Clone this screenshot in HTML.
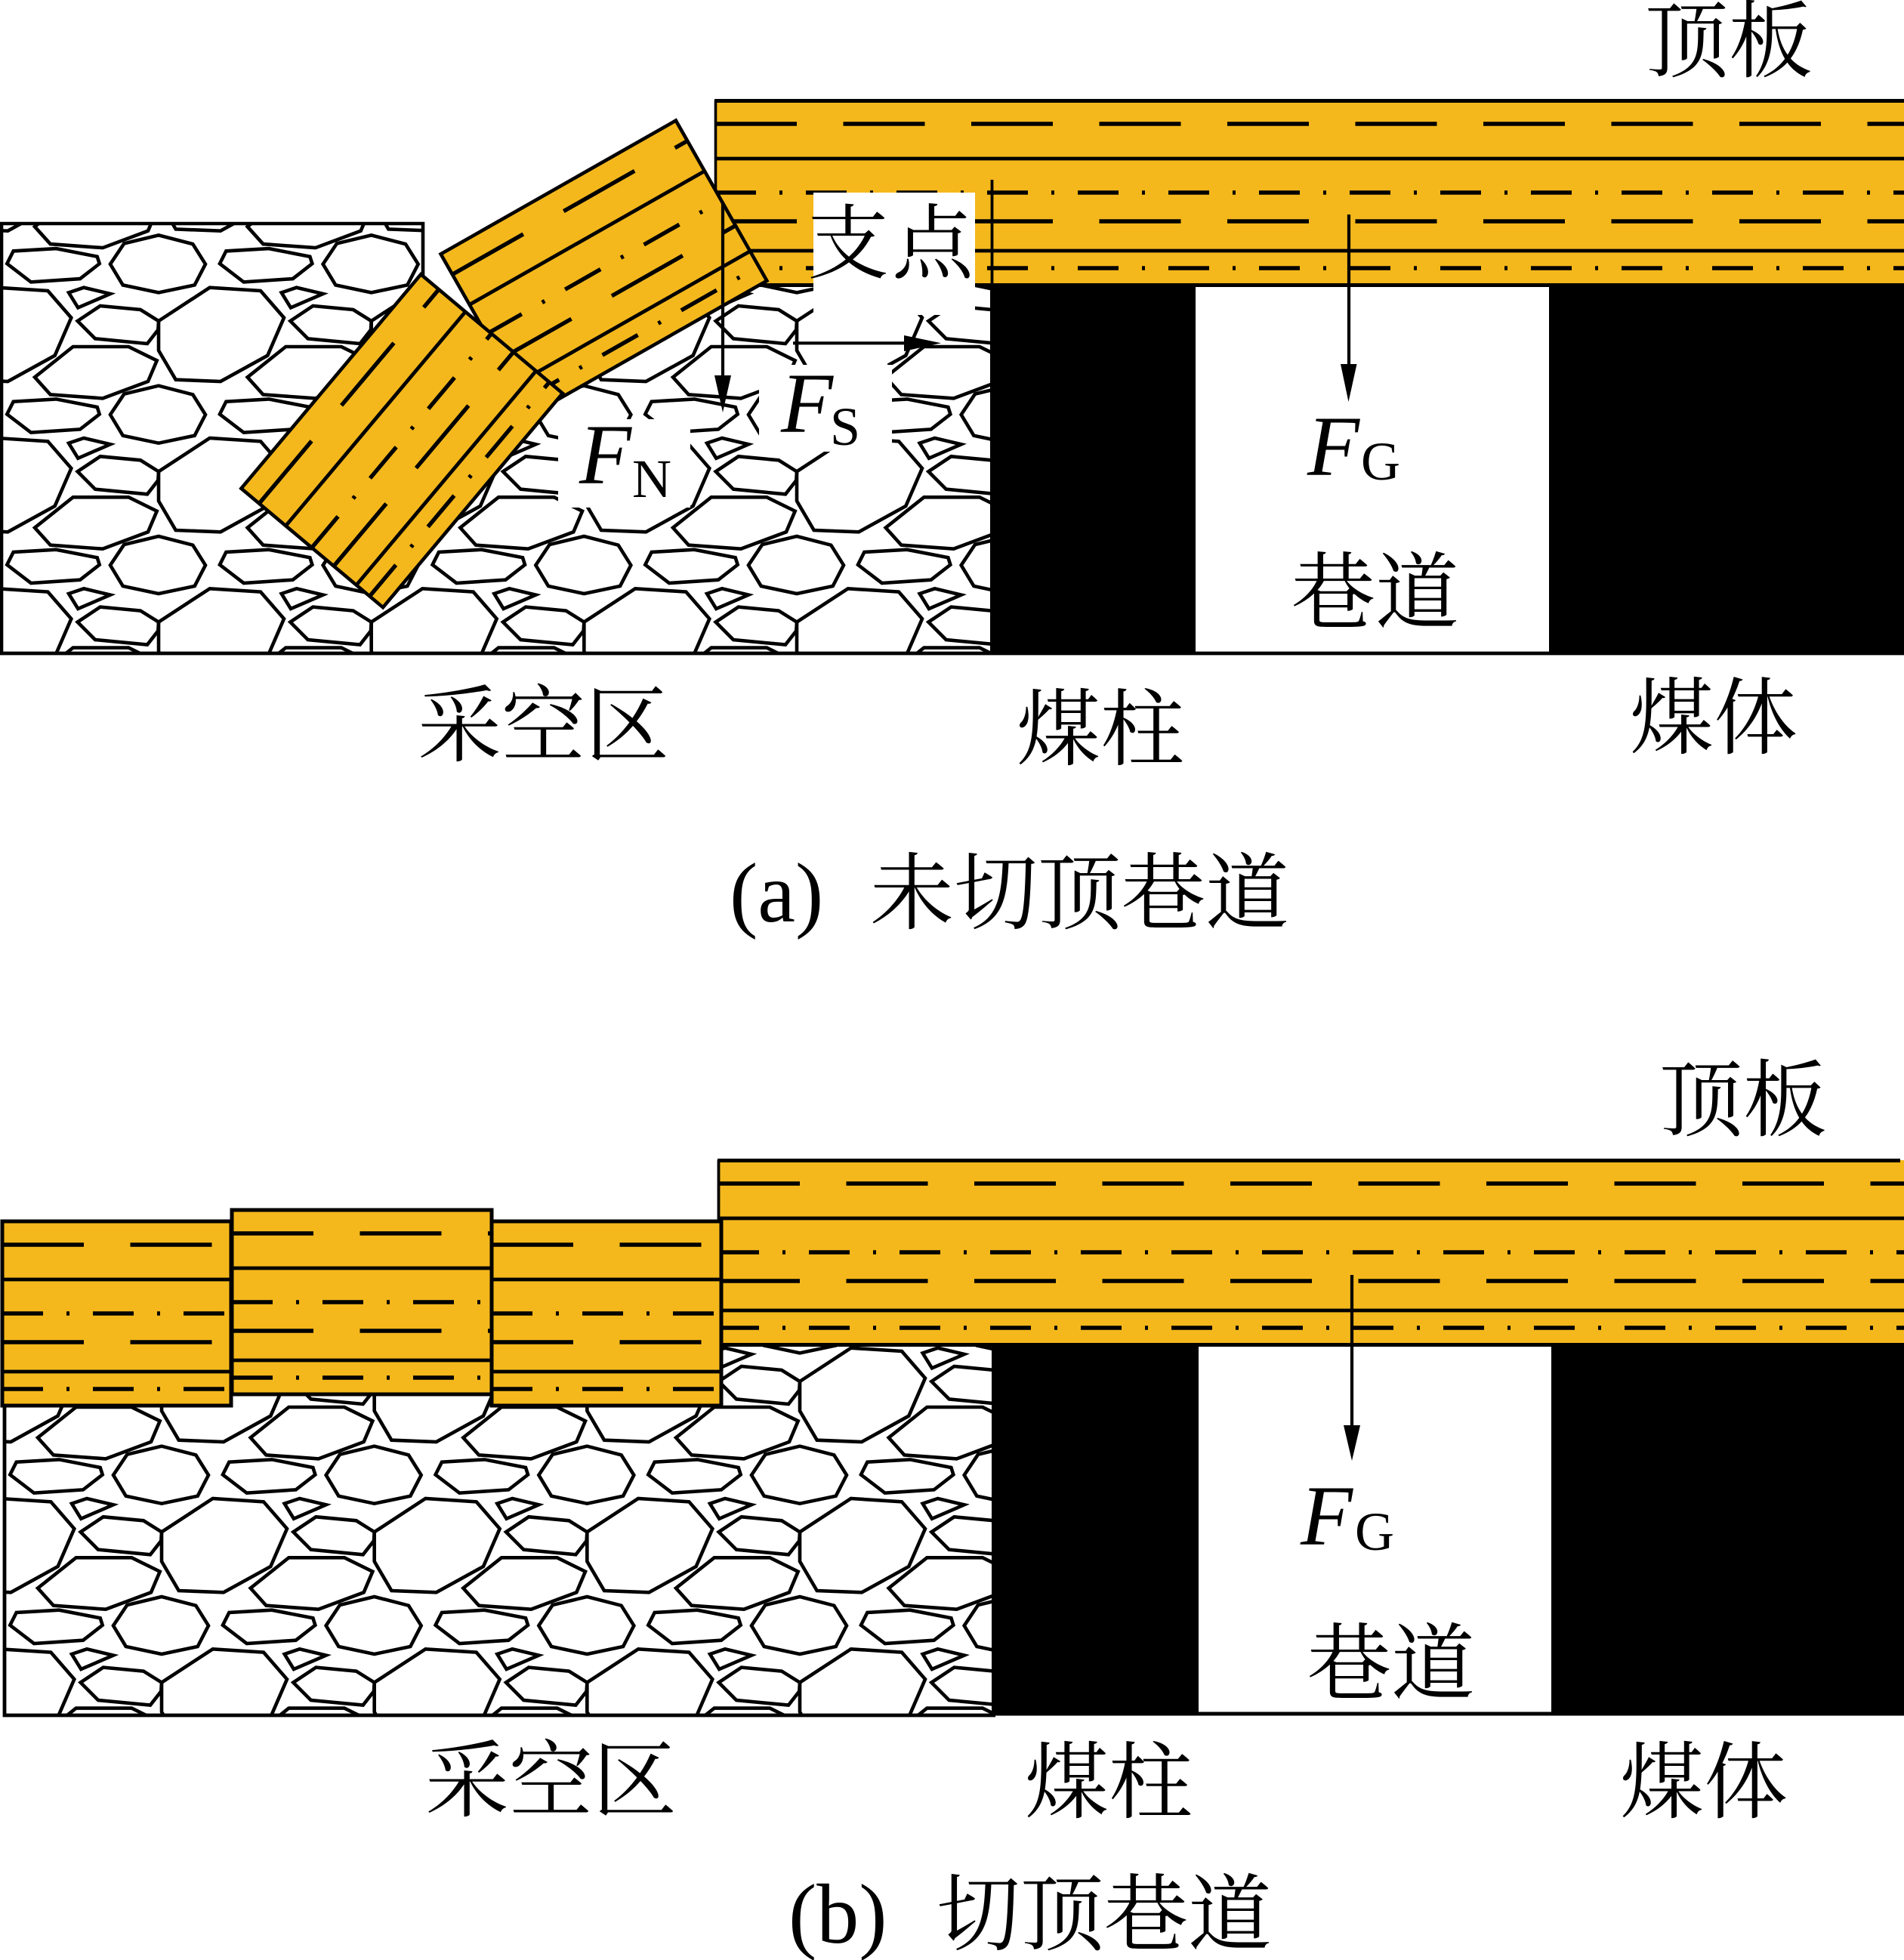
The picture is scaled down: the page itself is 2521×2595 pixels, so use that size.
<!DOCTYPE html>
<html><head><meta charset="utf-8"><title>未切顶巷道与切顶巷道</title>
<style>
html,body{margin:0;padding:0;background:#fff}
svg{display:block}
.c{font-family:"Liberation Serif","Noto Serif CJK SC",serif;font-size:111px;fill:#000}
.t{font-family:"Liberation Serif",serif;fill:#000}
.i{font-style:italic;font-size:113px}
.s{font-size:72px}
</style></head><body>
<svg xmlns="http://www.w3.org/2000/svg" width="2521" height="2595" viewBox="0 0 2521 2595">
<defs>
<g id="t" fill="none" stroke="#000" stroke-width="4.6" stroke-linejoin="miter">
<polygon points="214,68.3 281.7,24 349,28.3 380,64 358.3,114 296,148.3 236.7,146 214,107.3"/>
<polygon points="95,30.7 115,24 150,32.3 107.3,50.7"/>
<polygon points="106.7,68.3 136.7,48.3 190,53.3 214,68.3 213.3,80 199,98.3 130,91.7"/>
<polygon points="50,142.7 100.7,102.3 174.3,102.3 211.7,120.7 200,148.3 140,170.7 70.7,165.7"/>
<polygon points="150,192.3 168.3,165 214,154 259.3,165.7 276,192.3 261.7,220 214,230 166.7,220"/>
<polygon points="13.3,191.7 21.7,175 78.3,171.7 132.7,182.3 135.7,191.7 110,211.7 45,216"/>
</g>
<g id="r">
<use href="#t" x="-281.67"/><use href="#t" x="0"/><use href="#t" x="281.67"/><use href="#t" x="563.33"/><use href="#t" x="845"/><use href="#t" x="1126.67"/><use href="#t" x="1408.33"/>
</g>
<g id="g">
<use href="#r" y="-398.6"/><use href="#r" y="-199.3"/><use href="#r" y="0"/><use href="#r" y="199.3"/>
</g>
<g id="L" fill="none" stroke="#000">
<path d="M0 77H2000M0 199H2000" stroke-width="4.8"/>
<path d="M0 31H2000M0 160H2000" stroke-width="5.4" stroke-dasharray="108 61.5"/>
<path d="M0 122H2000M0 222H2000" stroke-width="5.4" stroke-dasharray="54 31 4 31"/>
</g>
<clipPath id="ca"><polygon points="2,296 560,296 560,366 700,500 1016,375 1315,375 1315,865 2,865"/></clipPath>
<clipPath id="cb"><rect x="6" y="1780" width="1312" height="491"/></clipPath>
</defs>

<rect width="2521" height="2595" fill="#fff"/>

<!-- panel a rubble -->
<g clip-path="url(#ca)"><use href="#g" x="-4" y="556"/></g>
<path d="M2 865V296H560V366" fill="none" stroke="#000" stroke-width="4.6"/>

<!-- panel a band -->
<rect x="947" y="133" width="1580" height="244" fill="#f4b81c"/>
<svg x="947" y="133" width="1574" height="244"><use href="#L"/></svg>
<path d="M947.5 379V133" fill="none" stroke="#000" stroke-width="3.6"/>
<path d="M946 133.5H2521M946 377.5H2521" fill="none" stroke="#000" stroke-width="5"/>

<!-- panel a ground -->
<rect x="1311" y="378" width="272" height="489" fill="#000"/>
<rect x="2051" y="378" width="470" height="489" fill="#000"/>
<path d="M0 865H2521" stroke="#000" stroke-width="4.8"/>

<!-- broken blocks -->
<g transform="translate(583.6,336.4) rotate(-29.6)">
<rect width="358" height="244" fill="#f4b81c" stroke="#000" stroke-width="4.6"/>
<svg width="358" height="244"><use href="#L"/></svg>
</g>
<g transform="translate(319.4,646.7) rotate(-50)">
<rect width="370" height="245" fill="#f4b81c" stroke="#000" stroke-width="4.6"/>
<svg width="370" height="245"><use href="#L"/></svg>
</g>

<!-- label masks -->
<rect x="1077" y="255" width="214" height="162" fill="#fff"/>
<rect x="1077" y="417" width="98" height="66" fill="#fff"/>
<rect x="1005" y="483" width="176" height="115" fill="#fff"/>
<rect x="739" y="555" width="175" height="117" fill="#fff"/>

<!-- panel a arrows -->
<path d="M1313.5 238V377" stroke="#000" stroke-width="3.8"/>
<path d="M1786 284V500" stroke="#000" stroke-width="4.2"/>
<polygon points="1775,482 1796.5,482 1785.5,532" fill="#000"/>
<path d="M957 267V510" stroke="#000" stroke-width="4.2"/>
<polygon points="946,497 968,497 957,546" fill="#000"/>
<path d="M1050 454.3H1210" stroke="#000" stroke-width="4.2"/>
<polygon points="1197,444 1197,465 1246,454.3" fill="#000"/>

<!-- panel a labels -->
<text class="c" x="2178" y="93">顶板</text>
<text class="c" x="1069" y="360" letter-spacing="4" style="font-size:108px">支点</text>
<text class="c" x="1710" y="823">巷道</text>
<text class="c" x="553" y="999">采空区</text>
<text class="c" x="1346" y="1004">煤柱</text>
<text class="c" x="2158" y="989">煤体</text>
<text class="t i" x="1034" y="572">F</text><text class="t s" x="1099" y="589">S</text>
<text class="t i" x="767" y="640">F</text><text class="t s" x="837" y="658">N</text>
<text class="t i" x="1731" y="629">F</text><text class="t s" x="1802" y="635">G</text>
<text class="t" style="font-size:112px" x="966" y="1220">(a)</text>
<text class="c" x="1152" y="1221">未切顶巷道</text>

<!-- panel b rubble -->
<g clip-path="url(#cb)"><use href="#g" x="0" y="1960"/></g>
<path d="M6 1780V2271H1318" fill="none" stroke="#000" stroke-width="4.8"/>

<!-- panel b ground -->
<rect x="1313" y="1778" width="274" height="493" fill="#000"/>
<rect x="2054" y="1778" width="467" height="493" fill="#000"/>
<path d="M1313 2269H2521" stroke="#000" stroke-width="5"/>

<!-- panel b band -->
<rect x="951" y="1536" width="1570" height="244" fill="#f4b81c"/>
<svg x="951" y="1536" width="1570" height="244"><use href="#L"/></svg>
<path d="M951.5 1782V1536" fill="none" stroke="#000" stroke-width="3.8"/>
<path d="M950 1536.5H2516M950 1780.5H2521" fill="none" stroke="#000" stroke-width="5"/>

<!-- panel b blocks -->
<g fill="#f4b81c" stroke="#000" stroke-width="5">
<rect x="3" y="1617" width="303" height="244"/>
<rect x="651" y="1617" width="304" height="244"/>
<rect x="307" y="1602" width="344" height="244"/>
</g>
<svg x="3" y="1617" width="303" height="244"><use href="#L"/></svg>
<svg x="651" y="1617" width="304" height="244"><use href="#L"/></svg>
<svg x="307" y="1602" width="344" height="244"><use href="#L"/></svg>

<!-- panel b arrow -->
<path d="M1790 1688V1900" stroke="#000" stroke-width="4.2"/>
<polygon points="1779,1887 1801,1887 1790,1934" fill="#000"/>

<!-- panel b labels -->
<text class="c" x="2197" y="1495">顶板</text>
<text class="c" x="1731" y="2241">巷道</text>
<text class="c" x="563" y="2396">采空区</text>
<text class="c" x="1357" y="2398">煤柱</text>
<text class="c" x="2145" y="2398">煤体</text>
<text class="t i" x="1722" y="2045">F</text><text class="t s" x="1794" y="2052">G</text>
<text class="t" style="font-size:112px" x="1044" y="2572">(b)</text>
<text class="c" x="1240" y="2573">切顶巷道</text>
</svg>
</body></html>
